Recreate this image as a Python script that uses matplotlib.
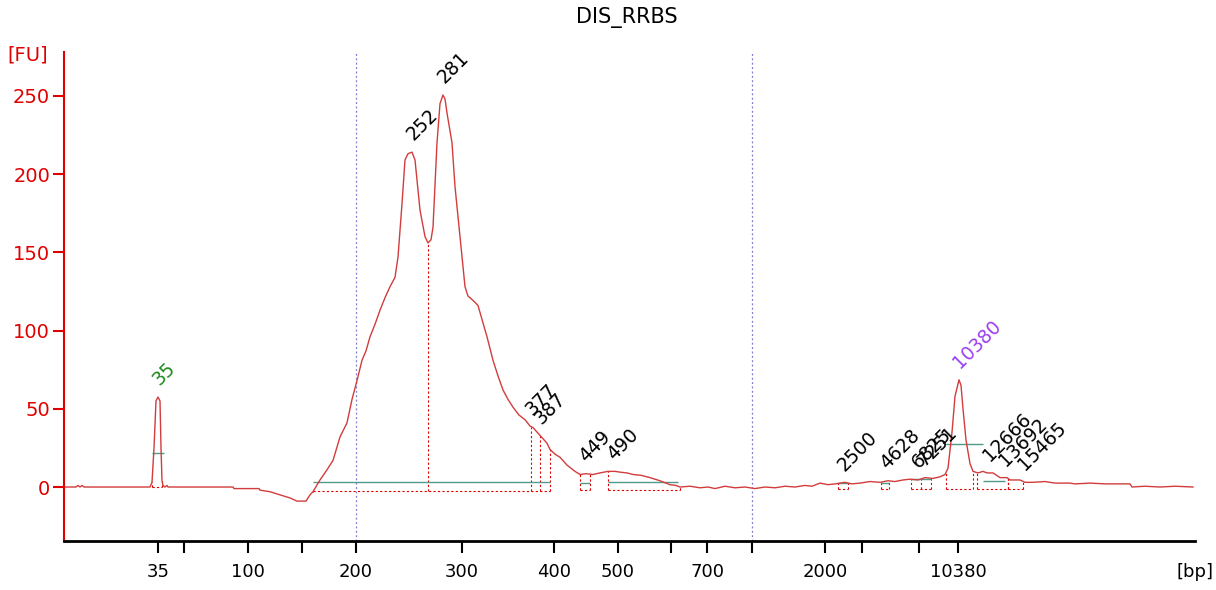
import numpy as np
import matplotlib.pyplot as plt

# electropherogram trace: migration position vs fluorescence [FU]
pos = [64, 76, 78, 80, 82, 84, 150, 152, 154, 156, 158, 160, 161, 162, 163, 165, 167, 168,
       233, 234, 259, 260, 270, 280, 290, 297, 306, 310, 313, 320, 327, 333, 340, 347, 352, 357,
       362, 366, 370, 375, 380, 385, 390, 395, 398, 402, 405, 408, 412, 415, 420, 425, 428, 431,
       433, 437, 440, 443, 445, 447, 452, 455, 460, 465, 468, 470, 475, 478, 483, 487, 493, 498,
       503, 508, 513, 519, 525, 530, 533, 540, 547, 550, 555, 560, 567, 575, 580, 586, 593, 600,
       608, 615, 620, 627, 633, 641, 650, 660, 670, 676, 680, 690, 700, 708, 715, 725, 735, 745,
       755, 765, 775, 785, 795, 805, 812, 820, 828, 835, 845, 852, 860, 870, 880, 888, 895, 903,
       910, 918, 925, 933, 940, 945, 948, 952, 955, 958, 959, 961, 963, 966, 970, 973, 978, 983,
       987, 993, 1000, 1007, 1010, 1020, 1025, 1033, 1045, 1055, 1070, 1075, 1090, 1105, 1120,
       1130, 1132, 1145, 1160, 1175, 1193]
fu = [0, 0, 1, 0, 1, 0, 0, 3, 25, 55, 57.5, 55, 25, 4, 1, 0, 1, 0,
      0, -1, -1, -2, -3, -5, -7, -9, -9, -5, -3, 4.5, 11, 17, 32, 41, 56, 68,
      81, 87, 96, 104, 113, 121, 128, 134, 147, 181, 209, 213, 214, 209, 177, 160, 156, 158,
      166, 220, 245, 250.5, 248, 239, 220, 192, 160, 128, 122, 121, 118, 116, 105, 96, 81, 71,
      62, 56, 51, 46, 43, 39, 38, 33, 28, 24, 21, 19, 14, 10, 8, 8.5, 8, 9,
      10, 10, 9.5, 9, 8, 7.5, 6, 4, 1.5, 1, 0, 0.5, -0.5, 0, -1, 0.5, -0.5, 0,
      -1, 0, -0.5, 0.5, 0, 1, 0.5, 2.5, 1.5, 2, 3, 2, 2.5, 3.5, 3, 4, 3.5, 4.5,
      5, 4.5, 6, 5.5, 6.5, 8, 12, 35, 58, 66, 68.5, 65, 50, 30, 15, 10, 9, 10,
      9, 9, 6, 6, 4.5, 4.5, 3, 3, 3.5, 2.5, 2.5, 2, 2.5, 2, 2,
      2, 0, 0.5, 0, 0.5, 0]

# peak calls
peak_pos = [158, 412, 443, 531, 540, 585, 613, 843, 886, 918, 923, 959, 989, 1005, 1024]
peak_lbl = ["35", "252", "281", "377", "387", "449", "490", "2500", "4628", "6825", "7251",
            "10380", "12666", "13692", "15465"]
peak_col = ["#1f8a1f"] + ["black"] * 10 + ["#9b40f0"] + ["black"] * 3

# integration regions (start, end, dotted floor)
regions = [(152, 162, 0), (313, 550, -2.5), (580, 590, -2), (608, 680, -2),
           (838, 848, -1), (881, 889, -1), (911, 931, -1), (946, 973, -1),
           (977, 1008, -1), (1008, 1023, -1)]
region_marks = [428, 531, 540, 921]
baselines = [(313, 550, 3), (580, 590, 2.5), (608, 678, 3), (838, 848, 2.5),
             (881, 889, 2.5), (911, 931, 5), (983, 1005, 4)]
halfheight = [(152, 164, 22), (946, 983, 27.5)]

# x axis ladder
tick_pos = [158, 184, 248, 302, 356, 462, 554, 618, 671, 707, 752, 825, 862, 919, 958]
tick_lbl = ["35", "", "100", "", "200", "300", "400", "500", "", "700", "", "2000", "", "",
            "10380"]
marker_lines = [356, 752]

RED = "#e00000"
TRACE = "#d23c3c"
GREEN = "#4f9a88"

fig = plt.figure(figsize=(12.16, 5.90), dpi=100)
ax = fig.add_axes([64 / 1216, 49 / 590, 1131 / 1216, 489 / 590])

for m in marker_lines:
    ax.axvline(m, color="#7a7ad0", lw=0.9, ls=(0, (1.5, 2)))

for x0, x1, floor in regions:
    ax.hlines(floor, x0, x1, color=RED, lw=0.8, ls=(0, (2, 2)))
    for x in (x0, x1):
        ax.vlines(x, floor, np.interp(x, pos, fu), color=RED, lw=0.8, ls=(0, (2, 2)))
for x in region_marks:
    ax.vlines(x, -2.5 if x < 600 else -1, np.interp(x, pos, fu), color=RED, lw=0.8,
              ls=(0, (2, 2)))
for x0, x1, y in baselines + halfheight:
    ax.hlines(y, x0, x1, color=GREEN, lw=1.0)

ax.plot(pos, fu, color=TRACE, lw=1.0)

for x, t, c in zip(peak_pos, peak_lbl, peak_col):
    ax.annotate(t, (x, np.interp(x, pos, fu)), xytext=(4, 8), textcoords="offset pixels",
                rotation=45, rotation_mode="anchor", ha="left", va="bottom",
                fontsize=13.5, color=c)

ax.set_xlim(64, 1195)
ax.set_ylim(-34.5, 278)
ax.set_xticks(tick_pos)
ax.set_xticklabels(tick_lbl, fontsize=13)
ax.set_yticks([0, 50, 100, 150, 200, 250])
ax.tick_params(axis="x", length=8.5, width=1.5, color="black", pad=7)
ax.tick_params(axis="y", length=8, width=1.5, colors=RED, labelsize=14, pad=2)
ax.spines["top"].set_visible(False)
ax.spines["right"].set_visible(False)
ax.spines["left"].set_color(RED)
ax.spines["left"].set_linewidth(1.5)
ax.spines["bottom"].set_linewidth(2)

fig.text(627 / 1216, 1 - 17 / 590, "DIS_RRBS", ha="center", va="center", fontsize=15)
fig.text(28 / 1216, 1 - 55 / 590, "[FU]", ha="center", va="center", fontsize=14, color=RED)
fig.text(1195 / 1216, 1 - 572 / 590, "[bp]", ha="center", va="center", fontsize=13)

fig.savefig("out.png", dpi=100)
